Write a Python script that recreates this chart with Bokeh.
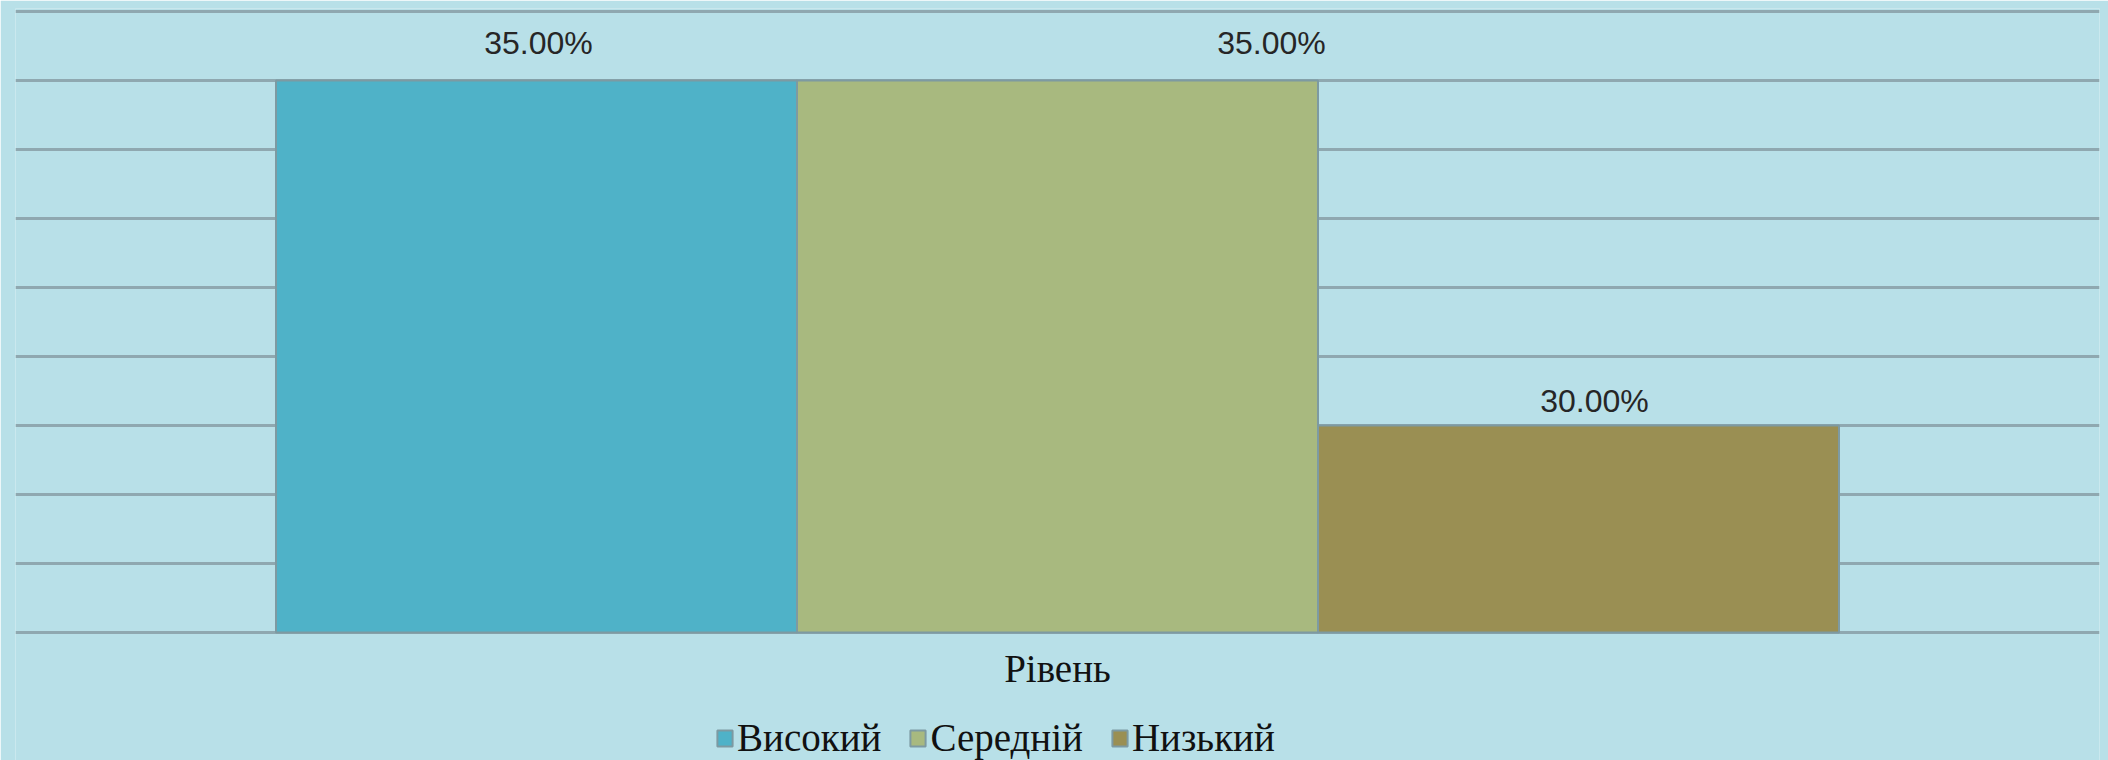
from bokeh.plotting import figure
from bokeh.models import ColumnDataSource, Range1d, FixedTicker, Legend, LegendItem
from bokeh.transform import dodge
from bokeh.core.properties import value
from bokeh.embed import file_html
from bokeh.resources import INLINE

# ---- data ----
category = ["Рівень"]
series = ["Високий", "Середній", "Низький"]
values = [35.0, 35.0, 30.0]
colors = ["#4fb2c8", "#a8b97f", "#9a8f53"]
axis_min = 27
axis_max = 36
grid_ticks = list(range(axis_min, axis_max + 1))

# ---- layout tweaks for labels (screen px) ----
offsets = [-0.25, 0.0, 0.25]
label_dx = [2, 214, 16]
label_dy = [-38, -38, -25]

BG = "#b8e0e8"
GRID = "#8fa8b0"

W, H = 2108, 760
TOP, BASE = 11, 632          # pixel rows of the top gridline and the baseline
px_per_unit = (BASE - TOP) / (axis_max - axis_min)

p = figure(x_range=category, width=W, height=H,
           output_backend="svg", toolbar_location=None,
           background_fill_color=BG, border_fill_color=BG,
           min_border_left=15, min_border_right=9, min_border_top=8,
           min_border_bottom=0)
p.y_range = Range1d(axis_min - (H - BASE) / px_per_unit,
                    axis_max + (TOP - 8) / px_per_unit)
p.outline_line_color = None
p.xaxis.visible = False
p.yaxis.visible = False
p.ygrid.ticker = FixedTicker(ticks=grid_ticks)
p.ygrid.grid_line_color = GRID
p.ygrid.grid_line_width = 3
p.xgrid.grid_line_color = None

items = []
for i, (name, v, c) in enumerate(zip(series, values, colors)):
    src = ColumnDataSource(dict(x=category, top=[v], bottom=[axis_min],
                                lbl=[f"{v:.2f}%"]))
    r = p.vbar(x=dodge("x", offsets[i], range=p.x_range), top="top", bottom="bottom",
               width=0.25, source=src, fill_color=c, line_color="#7d9aa2", line_width=2)
    p.text(x=dodge("x", offsets[i], range=p.x_range), y="top", text="lbl", source=src,
           x_offset=label_dx[i], y_offset=label_dy[i],
           text_align="center", text_baseline="middle",
           text_font=value("Liberation Sans"), text_font_size="32px",
           text_color="#262626")
    items.append(LegendItem(label=name, renderers=[r]))

# category label under the baseline
cat_src = ColumnDataSource(dict(x=category, y=[axis_min] * len(category), t=category))
p.text(x="x", y="y", text="t", source=cat_src, y_offset=36,
       text_align="center", text_baseline="middle",
       text_font=value("Liberation Serif"), text_font_size="39px",
       text_color="#111111")

legend = Legend(items=items, orientation="horizontal", location=(700, 0),
                background_fill_alpha=0, border_line_color=None,
                padding=0, margin=0, spacing=27, label_standoff=3,
                glyph_width=19, glyph_height=20,
                label_text_font="Liberation Serif", label_text_font_size="39px",
                label_text_color="#111111")
p.add_layout(legend, "center")

open("out.html", "w").write(file_html(p, INLINE))
